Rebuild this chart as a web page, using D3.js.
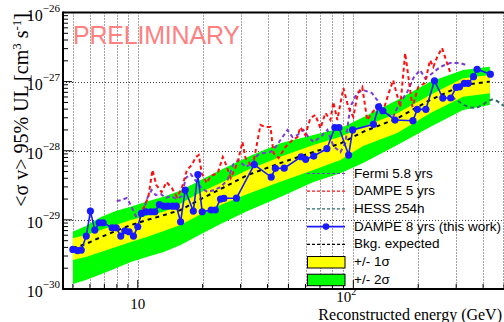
<!DOCTYPE html>
<html>
<head>
<meta charset="utf-8">
<script src="https://cdn.jsdelivr.net/npm/d3@7"></script>
<style>
  body { margin: 0; background: #fff; }
  svg { display: block; }
</style>
</head>
<body>
<div class="container"></div>
<script>
// DAMPE 8 yrs (this work)
const dampe8E = [5.00, 5.25, 5.47, 5.77, 6.03, 6.32, 6.62, 6.91, 7.60, 7.94, 8.34, 8.71, 9.11, 9.55, 10.0, 10.4, 10.9, 11.5, 12.0, 12.6, 13.2, 13.8, 14.5, 15.1, 15.8, 16.6, 18.1, 19.0, 19.9, 21.9, 22.9, 24.2, 25.1, 28.7, 34.7, 41.6, 43.5, 47.8, 57.3, 60.1, 65.5, 75.4, 82.1, 85.8, 95.1, 99.3, 124, 131, 137, 156, 189, 198, 217, 238, 260, 283, 300, 311, 327, 341, 361, 375, 432];
const dampe8Sv = [3.74e-30, 3.60e-30, 3.66e-30, 5.83e-30, 1.34e-29, 7.12e-30, 9.08e-30, 9.08e-30, 7.69e-30, 7.69e-30, 5.83e-30, 6.96e-30, 6.73e-30, 5.83e-30, 7.95e-30, 1.24e-29, 1.31e-29, 1.31e-29, 1.31e-29, 1.66e-29, 1.58e-29, 1.58e-29, 1.58e-29, 1.58e-29, 9.39e-30, 2.70e-29, 1.34e-29, 4.53e-29, 1.31e-29, 1.39e-29, 1.39e-29, 2.00e-29, 2.05e-29, 2.06e-29, 6.31e-29, 4.16e-29, 5.56e-29, 5.60e-29, 8.19e-29, 7.51e-29, 8.38e-29, 1.07e-28, 2.17e-28, 2.17e-28, 8.67e-29, 2.00e-28, 2.41e-28, 4.33e-28, 3.79e-28, 2.78e-28, 2.72e-28, 3.97e-28, 3.97e-28, 1.03e-27, 5.79e-28, 5.80e-28, 8.27e-28, 8.40e-28, 9.45e-28, 9.45e-28, 1.18e-27, 1.51e-27, 1.28e-27];

// expected background band
const bandE   = [5.00, 5.74, 6.75, 7.91, 9.28, 11.0, 13.2, 15.8, 19.6, 24.2, 32.3, 45.9, 65.3, 87.1, 111, 160, 227, 323, 430];
const band2Hi = [6.73e-30, 8.13e-30, 1.10e-29, 1.34e-29, 1.55e-29, 1.84e-29, 2.16e-29, 2.65e-29, 3.77e-29, 5.26e-29, 8.11e-29, 1.28e-28, 1.69e-28, 2.11e-28, 3.04e-28, 5.42e-28, 1.00e-27, 1.47e-27, 1.64e-27];
const band1Hi = [5.40e-30, 6.03e-30, 7.12e-30, 8.41e-30, 9.93e-30, 1.15e-29, 1.31e-29, 1.73e-29, 2.52e-29, 3.41e-29, 5.26e-29, 8.19e-29, 1.21e-28, 1.60e-28, 2.22e-28, 3.48e-28, 6.40e-28, 1.12e-27, 1.25e-27];
const bandMed = [3.91e-30, 4.47e-30, 5.64e-30, 6.89e-30, 8.41e-30, 9.93e-30, 1.17e-29, 1.39e-29, 2.00e-29, 2.79e-29, 4.45e-29, 6.64e-29, 9.57e-29, 1.27e-28, 1.88e-28, 2.94e-28, 5.42e-28, 8.93e-28, 1.00e-27];
const band1Lo = [2.62e-30, 2.90e-30, 3.42e-30, 4.04e-30, 4.77e-30, 5.64e-30, 6.89e-30, 8.41e-30, 1.21e-29, 1.64e-29, 2.36e-29, 3.56e-29, 5.26e-29, 7.33e-29, 1.17e-28, 1.80e-28, 3.48e-28, 6.04e-28, 6.78e-28];
const band2Lo = [1.18e-30, 1.35e-30, 1.64e-30, 2.00e-30, 2.45e-30, 2.90e-30, 3.42e-30, 4.32e-30, 6.22e-30, 8.69e-30, 1.34e-29, 2.14e-29, 3.52e-29, 4.71e-29, 6.64e-29, 1.21e-28, 2.20e-28, 3.88e-28, 4.58e-28];

// Fermi 5.8 yrs
const fermiE = [7.99, 8.43, 8.89, 9.28, 9.79, 10.2, 10.7, 11.0, 11.6, 12.1, 12.8, 13.5, 14.2, 15.2, 16.0, 16.7, 17.6, 18.6, 19.8, 21.1, 22.5, 24.2, 26.1, 27.8, 29.4, 31.6, 34.1, 35.9, 38.3, 41.3, 44.0, 45.9, 49.5, 52.2, 55.1, 58.7, 61.9, 65.3, 70.4, 75.8, 80.8, 87.1, 91.8, 96.8, 104, 111, 122, 131, 141, 152, 162, 178, 190, 204, 215, 227, 253, 281, 313, 334];
const fermiSv = [1.87e-29, 1.94e-29, 2.07e-29, 1.64e-29, 1.13e-29, 1.06e-29, 1.43e-29, 2.00e-29, 2.70e-29, 2.29e-29, 2.36e-29, 2.07e-29, 2.21e-29, 2.00e-29, 2.21e-29, 4.03e-29, 4.60e-29, 3.65e-29, 2.88e-29, 2.52e-29, 2.70e-29, 2.98e-29, 3.77e-29, 6.43e-29, 7.33e-29, 5.81e-29, 6.64e-29, 8.67e-29, 9.27e-29, 9.57e-29, 1.17e-28, 1.43e-28, 2.00e-28, 1.58e-28, 1.69e-28, 2.00e-28, 1.58e-28, 1.34e-28, 1.58e-28, 2.00e-28, 1.17e-28, 9.57e-29, 1.29e-28, 4.29e-28, 6.84e-28, 7.55e-28, 6.84e-28, 5.07e-28, 3.63e-28, 2.97e-28, 4.58e-28, 7.07e-28, 1.13e-27, 1.47e-27, 1.13e-27, 1.25e-27, 1.63e-27, 1.86e-27, 1.86e-27, 1.74e-27];

// DAMPE 5 yrs
const dampe5E = [10.1, 10.7, 11.2, 11.7, 12.2, 12.9, 13.6, 14.4, 15.2, 16.0, 16.9, 17.8, 18.6, 19.2, 19.8, 20.9, 21.8, 23.5, 24.8, 25.5, 27.0, 29.0, 30.6, 31.6, 34.1, 37.1, 39.1, 41.3, 42.6, 45.0, 48.4, 52.2, 55.1, 56.8, 59.9, 63.2, 66.7, 70.4, 74.2, 78.3, 80.8, 84.3, 89.9, 94.8, 100, 105, 110, 116, 122, 131, 138, 145, 153, 165, 174, 188, 200, 215, 227, 235, 245, 258, 272, 281];
const dampe5Sv = [1.17e-29, 1.53e-29, 2.14e-29, 5.26e-29, 3.19e-29, 2.52e-29, 3.52e-29, 2.88e-29, 2.14e-29, 2.88e-29, 5.26e-29, 6.21e-29, 8.11e-29, 8.67e-29, 4.75e-29, 3.41e-29, 4.31e-29, 4.75e-29, 8.11e-29, 6.64e-29, 4.03e-29, 6.64e-29, 1.34e-28, 7.84e-29, 5.81e-29, 2.36e-28, 2.20e-28, 2.20e-28, 9.27e-29, 7.84e-29, 1.13e-28, 1.43e-28, 1.58e-28, 2.20e-28, 1.69e-28, 2.97e-28, 3.29e-28, 2.11e-28, 3.52e-28, 2.78e-28, 5.07e-28, 2.78e-28, 8.07e-28, 4.29e-28, 3.08e-28, 6.84e-28, 8.35e-28, 2.78e-28, 3.52e-28, 4.58e-28, 3.88e-28, 6.40e-28, 1.05e-27, 4.29e-28, 2.59e-27, 4.29e-28, 8.35e-28, 9.55e-28, 2.05e-27, 1.63e-27, 2.27e-27, 3.06e-27, 1.86e-27, 1.38e-27];

// HESS 254h
const hessE = [287, 306, 327, 348, 371, 396, 422, 440, 464, 500];
const hessSv = [5.98e-28, 5.24e-28, 4.58e-28, 4.22e-28, 4.15e-28, 4.58e-28, 5.24e-28, 5.51e-28, 5.24e-28, 4.44e-28];

// axis labels
const yTickVals = [1e-30, 1e-29, 1e-28, 1e-27, 1e-26];
const yTickExps = ["\u221230", "\u221229", "\u221228", "\u221227", "\u221226"];
const xTickVals = [10, 100];
const xTickExps = ["", "2"];

const legendLabels = ["Fermi 5.8 yrs", "DAMPE 5 yrs", "HESS 254h", "DAMPE 8 yrs (this work)", "Bkg. expected", "+/- 1\u03c3", "+/- 2\u03c3"];

const W = 504, H = 322;
const pLeft = 63, pRight = 504, pTop = 12.5, pBottom = 289;

const colFermi = "#7a3bd6", colD5 = "#ff1010", colHess = "#2e6a6a", colD8 = "#1a1aff";
const colYellow = "#ffff00", colGreen = "#00ff00";

const svg = d3.select(".container")
  .append("svg")
    .attr("width", W)
    .attr("height", H)
    .style("font-family", "'Liberation Serif', serif");

const x = d3.scaleLog().domain([4.5, 500]).range([pLeft, pRight]);
const y = d3.scaleLog().domain([1e-30, 1e-26]).range([pBottom, pTop]);

svg.append("clipPath").attr("id", "plotclip")
  .append("rect")
    .attr("x", pLeft).attr("y", pTop)
    .attr("width", pRight - pLeft).attr("height", pBottom - pTop);

// grid
const gridX = [];
[1, 10, 100].forEach(d => { for (let m = 1; m <= 9; m++) { const v = m * d; if (v >= 5 && v <= 500) gridX.push(v); } });
const minorY = [];
[-30, -29, -28, -27].forEach(e => { for (let m = 2; m <= 9; m++) minorY.push(m * Math.pow(10, e)); });

const grid = svg.append("g").attr("stroke", "#444").attr("stroke-width", 1).attr("stroke-dasharray", "1,2");
grid.selectAll(".gx").data(gridX.filter(v => v < 500)).enter().append("line")
  .attr("x1", d => Math.round(x(d)) + 0.5).attr("x2", d => Math.round(x(d)) + 0.5)
  .attr("y1", pTop).attr("y2", pBottom);
grid.append("line").attr("x1", 503.5).attr("x2", 503.5).attr("y1", pTop).attr("y2", pBottom);
grid.selectAll(".gy").data(yTickVals.slice(1, 4)).enter().append("line")
  .attr("x1", pLeft).attr("x2", pRight)
  .attr("y1", d => Math.round(y(d)) + 0.5).attr("y2", d => Math.round(y(d)) + 0.5);

const plot = svg.append("g").attr("clip-path", "url(#plotclip)");

const bandIdx = d3.range(bandE.length);
const area = (lo, hi) => d3.area()
  .x(i => x(bandE[i]))
  .y0(i => y(lo[i]))
  .y1(i => y(hi[i]));

plot.append("path").datum(bandIdx).attr("fill", colGreen).attr("d", area(band2Lo, band2Hi));
plot.append("path").datum(bandIdx).attr("fill", colYellow).attr("d", area(band1Lo, band1Hi));

const lineOf = (xs, ys) => d3.line().x(i => x(xs[i])).y(i => y(ys[i]))(d3.range(xs.length));

plot.append("path").attr("d", lineOf(bandE, bandMed))
  .attr("fill", "none").attr("stroke", "#000").attr("stroke-width", 2).attr("stroke-dasharray", "4,4");
plot.append("path").attr("d", lineOf(fermiE, fermiSv))
  .attr("fill", "none").attr("stroke", colFermi).attr("stroke-width", 2).attr("stroke-dasharray", "4,3");
plot.append("path").attr("d", lineOf(dampe5E, dampe5Sv))
  .attr("fill", "none").attr("stroke", colD5).attr("stroke-width", 2).attr("stroke-dasharray", "4,3");
plot.append("path").attr("d", lineOf(hessE, hessSv))
  .attr("fill", "none").attr("stroke", colHess).attr("stroke-width", 2).attr("stroke-dasharray", "4,3");

plot.append("path").attr("d", lineOf(dampe8E, dampe8Sv))
  .attr("fill", "none").attr("stroke", colD8).attr("stroke-width", 1.6);
plot.selectAll(".pt").data(d3.range(dampe8E.length)).enter().append("circle")
  .attr("cx", i => x(dampe8E[i])).attr("cy", i => y(dampe8Sv[i]))
  .attr("r", 3.6).attr("fill", colD8);

// PRELIMINARY watermark
svg.append("text")
  .attr("x", 73).attr("y", 43.5)
  .attr("font-family", "'Liberation Sans', Arial, sans-serif")
  .attr("font-size", 25)
  .attr("textLength", 167)
  .attr("fill", "#ff8080")
  .text("PRELIMINARY");

// frame
const frame = svg.append("g").attr("stroke", "#000").attr("fill", "none");
frame.append("line").attr("x1", pLeft).attr("x2", pRight).attr("y1", pTop).attr("y2", pTop).attr("stroke-width", 2);
frame.append("line").attr("x1", pLeft).attr("x2", pRight).attr("y1", pBottom).attr("y2", pBottom).attr("stroke-width", 2);
frame.append("line").attr("x1", pLeft).attr("x2", pLeft).attr("y1", pTop - 1).attr("y2", pBottom + 1).attr("stroke-width", 2);

// y ticks
frame.selectAll(".ymaj").data(yTickVals).enter().append("line")
  .attr("x1", pLeft).attr("x2", pLeft + 9).attr("y1", d => y(d)).attr("y2", d => y(d)).attr("stroke-width", 1);
frame.selectAll(".ymin").data(minorY).enter().append("line")
  .attr("x1", pLeft).attr("x2", pLeft + 5).attr("y1", d => y(d)).attr("y2", d => y(d)).attr("stroke-width", 1);
// x ticks
frame.selectAll(".xt").data(gridX).enter().append("line")
  .attr("x1", d => x(d)).attr("x2", d => x(d))
  .attr("y1", pBottom).attr("y2", d => (d === 10 || d === 100) ? pBottom - 9 : pBottom - 5)
  .attr("stroke-width", 1);

// y tick labels
const ylab = svg.selectAll(".ylab").data(yTickVals).enter().append("text")
  .attr("x", 60).attr("y", d => y(d) + 8)
  .attr("text-anchor", "end")
  .attr("font-size", 16)
  .attr("fill", "#000");
ylab.append("tspan").text("10");
ylab.append("tspan").attr("dy", -9).attr("font-size", 11).text((d, i) => yTickExps[i]);

// x tick labels
const xlab = svg.selectAll(".xlab").data(xTickVals).enter().append("text")
  .attr("x", (d, i) => xTickExps[i] ? x(d) - 17 : x(d))
  .attr("y", (d, i) => xTickExps[i] ? 302 : 309)
  .attr("text-anchor", (d, i) => xTickExps[i] ? "start" : "middle")
  .attr("font-size", 15)
  .attr("fill", "#000");
xlab.append("tspan").text("10");
xlab.append("tspan").attr("dy", -7).attr("font-size", 10).text((d, i) => xTickExps[i]);

// axis titles
svg.append("text")
  .attr("x", 502).attr("y", 320)
  .attr("text-anchor", "end")
  .attr("font-size", 16)
  .text("Reconstructed energy (GeV)");

const yt = svg.append("text")
  .attr("transform", "translate(28,13) rotate(-90)")
  .attr("text-anchor", "end")
  .attr("font-size", 20);
yt.append("tspan").text("<\u03c3 v> 95% UL [cm");
yt.append("tspan").attr("dy", -7).attr("font-size", 13).text("3");
yt.append("tspan").attr("dy", 7).text(" s");
yt.append("tspan").attr("dy", -7).attr("font-size", 13).text("-1");
yt.append("tspan").attr("dy", 7).text("]");

// legend
const legendStyles = [
  {type: "line", color: colFermi, dash: "3,2"},
  {type: "line", color: colD5, dash: "3,2"},
  {type: "line", color: colHess, dash: "3,2"},
  {type: "marker", color: colD8, dash: null},
  {type: "line", color: "#000", dash: "3,2"},
  {type: "box", color: colYellow},
  {type: "box", color: colGreen}
];
const legend = svg.append("g").attr("transform", "translate(0,177.5)");
const entry = legend.selectAll(".entry").data(legendLabels).enter().append("g")
  .attr("transform", (d, i) => "translate(0," + (i * 17.7) + ")");
entry.each(function(d, i) {
  const g = d3.select(this);
  const st = legendStyles[i];
  if (st.type === "box") {
    g.append("rect").attr("x", 307.5).attr("y", -9.5).attr("width", 37.5).attr("height", 11.5)
      .attr("fill", st.color).attr("stroke", "#000").attr("stroke-width", 1);
  } else {
    g.append("line").attr("x1", 307).attr("x2", 345).attr("y1", -4).attr("y2", -4)
      .attr("stroke", st.color).attr("stroke-width", st.type === "marker" ? 1.6 : 1.2)
      .attr("stroke-dasharray", st.dash);
    if (st.type === "marker") {
      g.append("circle").attr("cx", 326).attr("cy", -4).attr("r", 3.3).attr("fill", st.color);
    }
  }
  g.append("text").attr("x", 354).attr("y", 0)
    .attr("font-family", "'Liberation Sans', Arial, sans-serif")
    .attr("font-size", 13.5)
    .text(d);
});
</script>
</body>
</html>
